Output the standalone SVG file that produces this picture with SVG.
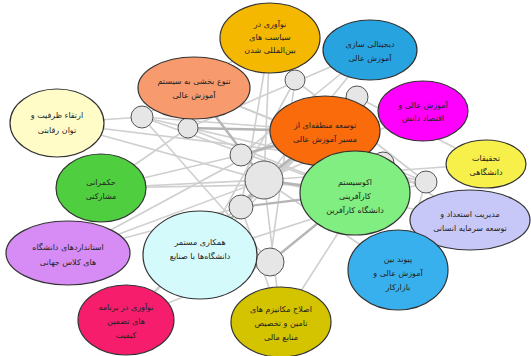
<svg xmlns="http://www.w3.org/2000/svg" width="531" height="356" viewBox="0 0 531 356">
<style>
.n ellipse{stroke:#333;stroke-width:1.2}
.t{font-family:"DejaVu Sans",sans-serif;font-size:8px;fill:#222;text-anchor:middle;direction:rtl}
.c line{stroke:#cfcfcf;stroke-width:1.6}
.c line.d{stroke:#b5b5b5;stroke-width:2.4}
.g circle{fill:#e6e6e6;stroke:#555;stroke-width:1}
</style>
<rect width="531" height="356" fill="#fff"/>
<g class="c" id="connectors">
<line x1="57" y1="123" x2="264" y2="180"/>
<line x1="57" y1="123" x2="142" y2="117"/>
<line x1="101" y1="188" x2="264" y2="180"/>
<line x1="101" y1="188" x2="241" y2="155"/>
<line x1="101" y1="188" x2="188" y2="128"/>
<line x1="68" y1="253" x2="264" y2="180"/>
<line x1="68" y1="253" x2="241" y2="207"/>
<line x1="126" y1="320" x2="264" y2="180"/>
<line x1="126" y1="320" x2="270" y2="262"/>
<line x1="281" y1="322" x2="264" y2="180"/>
<line x1="281" y1="322" x2="241" y2="207"/>
<line x1="281" y1="322" x2="383" y2="163"/>
<line x1="398" y1="270" x2="264" y2="180"/>
<line x1="398" y1="270" x2="426" y2="182"/>
<line x1="470" y1="220" x2="264" y2="180"/>
<line x1="470" y1="220" x2="383" y2="163"/>
<line x1="486" y1="164" x2="264" y2="180"/>
<line x1="486" y1="164" x2="357" y2="97"/>
<line x1="423" y1="111" x2="264" y2="180"/>
<line x1="423" y1="111" x2="241" y2="155"/>
<line x1="370" y1="50" x2="264" y2="180"/>
<line x1="370" y1="50" x2="241" y2="155"/>
<line x1="370" y1="50" x2="188" y2="128"/>
<line x1="270" y1="38" x2="264" y2="180"/>
<line x1="270" y1="38" x2="142" y2="117"/>
<line x1="270" y1="38" x2="241" y2="207"/>
<line x1="194" y1="88" x2="264" y2="180"/>
<line x1="194" y1="88" x2="383" y2="163"/>
<line x1="194" y1="88" x2="426" y2="182"/>
<line x1="200" y1="255" x2="357" y2="97"/>
<line x1="200" y1="255" x2="295" y2="80"/>
<line x1="200" y1="255" x2="426" y2="182"/>
<line x1="355" y1="193" x2="142" y2="117"/>
<line x1="355" y1="193" x2="188" y2="128"/>
<line x1="325" y1="131" x2="142" y2="117"/>
<line x1="325" y1="131" x2="241" y2="207"/>
<line x1="142" y1="117" x2="426" y2="182"/>
<line x1="142" y1="117" x2="270" y2="262"/>
<line x1="295" y1="80" x2="270" y2="262"/>
<line x1="295" y1="80" x2="426" y2="182"/>
<line x1="357" y1="97" x2="241" y2="207"/>
<line x1="357" y1="97" x2="126" y2="320"/>
<line x1="68" y1="253" x2="357" y2="97"/>
<line x1="101" y1="188" x2="426" y2="182"/>
<line x1="57" y1="123" x2="383" y2="163"/>
<line class="d" x1="264" y1="180" x2="325" y2="131"/>
<line class="d" x1="264" y1="180" x2="355" y2="193"/>
<line class="d" x1="264" y1="180" x2="200" y2="255"/>
<line class="d" x1="264" y1="180" x2="194" y2="88"/>
<line class="d" x1="241" y1="155" x2="325" y2="131"/>
<line class="d" x1="241" y1="207" x2="355" y2="193"/>
<line class="d" x1="270" y1="262" x2="355" y2="193"/>
<line class="d" x1="188" y1="128" x2="325" y2="131"/>
</g>
<g class="g" id="hubs">
<circle cx="142" cy="117" r="11"/>
<circle cx="188" cy="128" r="10"/>
<circle cx="295" cy="80" r="10"/>
<circle cx="357" cy="97" r="11"/>
<circle cx="241" cy="155" r="11"/>
<circle cx="264" cy="180" r="19"/>
<circle cx="383" cy="163" r="11"/>
<circle cx="426" cy="182" r="11"/>
<circle cx="241" cy="207" r="12"/>
<circle cx="270" cy="262" r="14"/>
</g>
<g class="n" id="n1"><ellipse cx="270" cy="38" rx="50" ry="35" fill="#f5b800"/><text class="t" x="270" y="27">نوآوری در</text><text class="t" x="270" y="40">سیاست های</text><text class="t" x="270" y="53">بین‌المللی شدن</text></g>
<g class="n" id="n2"><ellipse cx="370" cy="50" rx="47" ry="30" fill="#27a4e0"/><text class="t" x="370" y="47">دیجیتالی سازی</text><text class="t" x="370" y="61">آموزش عالی</text></g>
<g class="n" id="n3"><ellipse cx="194" cy="88" rx="56" ry="31" fill="#f79a6e"/><text class="t" x="194" y="84">تنوع بخشی به سیستم</text><text class="t" x="194" y="98">آموزش عالی</text></g>
<g class="n" id="n4"><ellipse cx="57" cy="123" rx="47" ry="34" fill="#fffcc8"/><text class="t" x="57" y="118">ارتقاء ظرفیت و</text><text class="t" x="57" y="133">توان رقابتی</text></g>
<g class="n" id="n5"><ellipse cx="423" cy="111" rx="45" ry="30" fill="#ff00ff"/><text class="t" x="423" y="108">آموزش عالی و</text><text class="t" x="423" y="121">اقتصاد دانش</text></g>
<g class="n" id="n6"><ellipse cx="325" cy="131" rx="55" ry="35" fill="#fa6b0c"/><text class="t" x="325" y="128">توسعه منطقه‌ای از</text><text class="t" x="325" y="142">مسیر آموزش عالی</text></g>
<g class="n" id="n7"><ellipse cx="486" cy="164" rx="40" ry="24" fill="#f7f04a"/><text class="t" x="486" y="161">تحقیقات</text><text class="t" x="486" y="175">دانشگاهی</text></g>
<g class="n" id="n8"><ellipse cx="470" cy="220" rx="60" ry="30" fill="#c8c8f8"/><text class="t" x="470" y="217">مدیریت استعداد و</text><text class="t" x="470" y="231">توسعه سرمایه انسانی</text></g>
<g class="n" id="n9"><ellipse cx="355" cy="193" rx="55" ry="42" fill="#80ee80"/><text class="t" x="355" y="185">اکوسیستم</text><text class="t" x="355" y="199">کارآفرینی</text><text class="t" x="355" y="213">دانشگاه کارآفرین</text></g>
<g class="n" id="n10"><ellipse cx="101" cy="188" rx="45" ry="34" fill="#4fcf3f"/><text class="t" x="101" y="185">حکمرانی</text><text class="t" x="101" y="199">مشارکتی</text></g>
<g class="n" id="n11"><ellipse cx="68" cy="253" rx="62" ry="32" fill="#d68cf4"/><text class="t" x="68" y="250">استانداردهای دانشگاه</text><text class="t" x="68" y="265">های کلاس جهانی</text></g>
<g class="n" id="n12"><ellipse cx="200" cy="255" rx="57" ry="44" fill="#d4fafc"/><text class="t" x="200" y="245">همکاری مستمر</text><text class="t" x="200" y="259">دانشگاه‌ها با صنایع</text></g>
<g class="n" id="n13"><ellipse cx="398" cy="270" rx="50" ry="40" fill="#38b0ee"/><text class="t" x="398" y="262">پیوند بین</text><text class="t" x="398" y="276">آموزش عالی و</text><text class="t" x="398" y="290">بازارکار</text></g>
<g class="n" id="n14"><ellipse cx="126" cy="320" rx="48" ry="35" fill="#f51d6c"/><text class="t" x="126" y="310">نوآوری در برنامه</text><text class="t" x="126" y="324">های تضمین</text><text class="t" x="126" y="338">کیفیت</text></g>
<g class="n" id="n15"><ellipse cx="281" cy="322" rx="50" ry="35" fill="#d4c400"/><text class="t" x="281" y="312">اصلاح مکانیزم های</text><text class="t" x="281" y="326">تامین و تخصیص</text><text class="t" x="281" y="340">منابع مالی</text></g>
</svg>
